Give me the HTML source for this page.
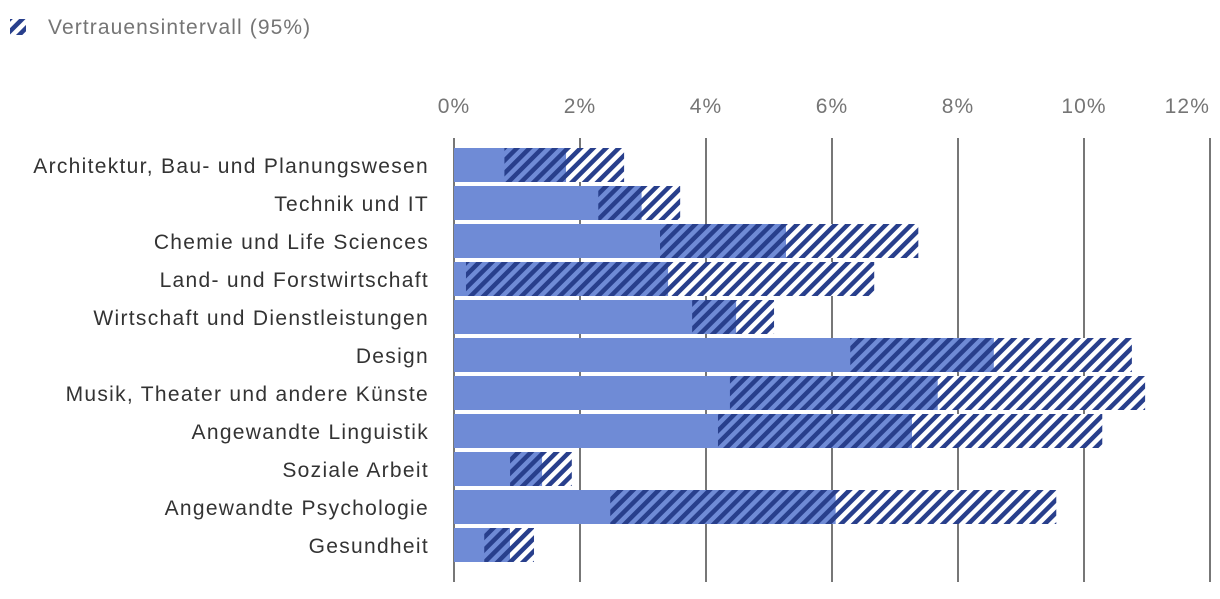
<!DOCTYPE html>
<html><head><meta charset="utf-8"><style>
body{margin:0;background:#fff;font-family:"Liberation Sans",sans-serif}
text{letter-spacing:1.1px}
#labels text{letter-spacing:1.3px}
</style></head><body>
<svg width="1220" height="594" xmlns="http://www.w3.org/2000/svg">
<defs>
<pattern id="hatch" patternUnits="userSpaceOnUse" width="9" height="9" patternTransform="rotate(45)">
<rect x="0" y="0" width="4.5" height="9" fill="#283f8c"/>
</pattern>
</defs>
<g>
<rect x="10" y="19" width="16" height="16" fill="url(#hatch)"/>
<text x="48" y="34" font-size="21" fill="#757575">Vertrauensintervall (95%)</text>
</g>
<g id="grid"></g><g id="bars"></g><g id="labels"></g>
</svg>
<script>
const categories=["Architektur, Bau- und Planungswesen","Technik und IT","Chemie und Life Sciences","Land- und Forstwirtschaft","Wirtschaft und Dienstleistungen","Design","Musik, Theater und andere Künste","Angewandte Linguistik","Soziale Arbeit","Angewandte Psychologie","Gesundheit"];
const values=[1.78,2.98,5.27,3.4,4.48,8.57,7.68,7.27,1.4,6.06,0.89];
const lower=[0.8,2.29,3.27,0.19,3.78,6.29,4.38,4.19,0.89,2.48,0.48];
const upper=[2.7,3.59,7.37,6.67,5.08,10.76,10.97,10.29,1.87,9.56,1.27];
const ticks=[0,2,4,6,8,10,12];
const NS="http://www.w3.org/2000/svg";
const x=v=>454+v*63;
const y=i=>148+i*38;
function mk(t,a,p){const e=document.createElementNS(NS,t);for(const k in a)e.setAttribute(k,a[k]);document.getElementById(p).appendChild(e);return e;}
ticks.forEach((t,k)=>{
 const l=mk('line',{x1:x(t),x2:x(t),y1:138,y2:582,stroke:'#777','stroke-width':2},'grid');
 
 
 const last=k===ticks.length-1;
 const tx=mk('text',{x:x(t),y:113,'text-anchor':last?'end':'middle','font-size':21,fill:'#757575'},'grid');
 tx.textContent=t+'%';
 
 
});
categories.forEach((c,i)=>{
 const b=mk('rect',{x:x(0),y:y(i),width:x(values[i])-x(0),height:34,fill:'#6f8bd6'},'bars');
 
 
 const w=mk('rect',{x:x(values[i]),y:y(i),width:x(upper[i])-x(values[i]),height:34,fill:'#fff'},'bars');
 
 
 const h=mk('rect',{x:x(lower[i]),y:y(i),width:x(upper[i])-x(lower[i]),height:34,fill:'url(#hatch)'},'bars');
 
 
 const t=mk('text',{x:429,y:y(i)+25,'text-anchor':'end','font-size':21,fill:'#333'},'labels');
 t.textContent=c;
 
 
});
</script>
</body></html>
